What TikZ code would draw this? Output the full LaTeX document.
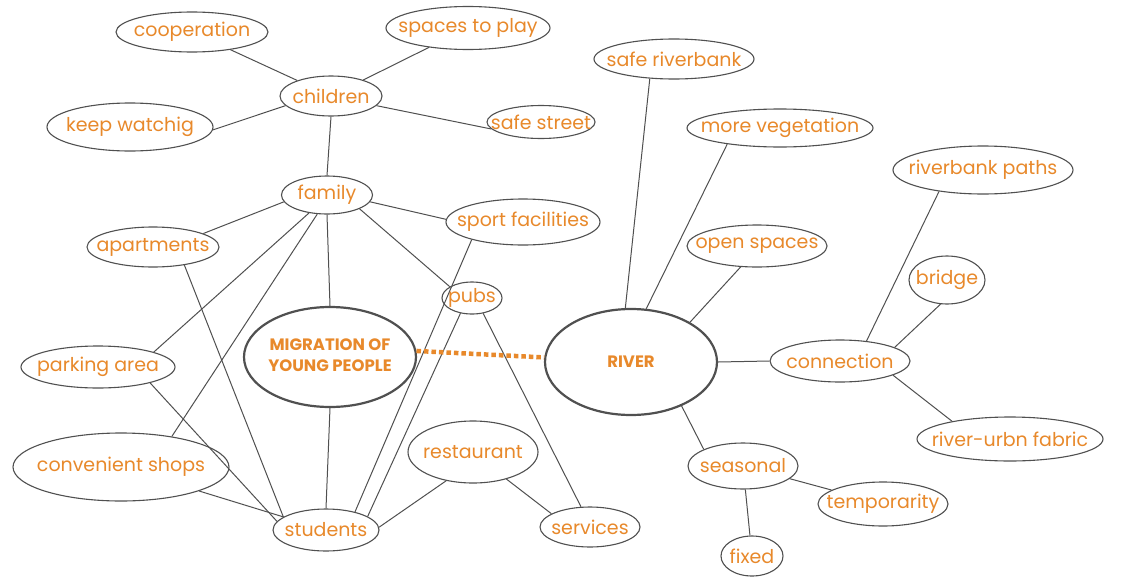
\documentclass[tikz,border=0pt]{standalone}
\usepackage{fontspec}
\setmainfont{Poppins}
\usetikzlibrary{shapes.geometric}
\definecolor{txt}{HTML}{E8892B}
\definecolor{ln}{HTML}{505050}
\tikzset{
  bub/.style={ellipse, draw=ln, line width=1.1pt, inner sep=0pt, text=txt, font=\fontsize{19}{21}\selectfont},
  big/.style={ellipse, draw=ln, line width=2.2pt, inner sep=0pt, text=txt, align=center, font=\fontsize{16.5}{22}\selectfont\bfseries},
  con/.style={draw=ln, line width=1pt},
  dotline/.style={draw=txt, line width=4.5pt, dash pattern=on 4.5pt off 3pt}
}
\newcommand{\bb}[5]{\node[bub, minimum width=#3pt, minimum height=#4pt] (#1) at #2 {\makebox[0pt]{#5}};}
\begin{document}
\begin{tikzpicture}[x=1pt,y=-1pt]
\useasboundingbox[fill=white] (0,0) rectangle (1122,581);
% nodes
\bb{coop}{(192,32)}{152}{40}{cooperation}
\bb{play}{(468,28)}{164}{43}{spaces to play}
\bb{child}{(331,96)}{102}{40}{children}
\bb{keep}{(130,127)}{166}{48}{keep watchig}
\bb{safest}{(541,122)}{108}{33}{safe street}
\bb{fam}{(327,195)}{91}{38}{family}
\bb{sport}{(523,222)}{154}{46}{sport facilities}
\bb{apt}{(153,247)}{132}{40}{apartments}
\bb{pubs}{(472,298)}{60}{32}{pubs}
\node[big, minimum width=172pt, minimum height=100pt] (mig) at (330,357) {\makebox[0pt]{\begin{tabular}{@{}c@{}}MIGRATION OF\\[-1pt]YOUNG PEOPLE\end{tabular}}};
\node[big, minimum width=172pt, minimum height=106pt] (river) at (631,362) {\makebox[0pt]{RIVER}};
\bb{park}{(98,367)}{154}{42}{parking area}
\bb{shops}{(121,467)}{216}{68}{convenient shops}
\bb{stud}{(326,530)}{106}{42}{students}
\bb{rest}{(473,452)}{130}{62}{restaurant}
\bb{serv}{(590,527)}{100}{40}{services}
\bb{saferb}{(674,59)}{160}{40}{safe riverbank}
\bb{veg}{(780,128)}{186}{38}{more vegetation}
\bb{open}{(757,246)}{140}{42}{open spaces}
\bb{paths}{(983,170)}{180}{48}{riverbank paths}
\bb{bridge}{(947,280)}{76}{48}{bridge}
\bb{conn}{(840,361)}{140}{42}{connection}
\bb{fabric}{(1010,439)}{186}{44}{river-urbn fabric}
\bb{seas}{(743,466)}{110}{46}{seasonal}
\bb{temp}{(883,504)}{130}{44}{temporarity}
\bb{fixed}{(752,556)}{62}{40}{fixed}
% connectors
\draw[con] (child) -- (coop);
\draw[con] (child) -- (play);
\draw[con] (child.192) -- (keep.-2);
\draw[con] (child.-12) -- (safest.188);
\draw[con] (child.south) -- (fam.north);
\draw[con] (fam.189) -- (apt.15);
\draw[con] (fam.-9) -- (sport.178);
\draw[con] (fam.south) -- (mig.north);
\draw[con] (fam.-23) -- (pubs.153);
\draw[con] (fam.225) -- (park.15);
\draw[con] (fam.243) -- (shops.31);
\draw[con] (apt.-30) -- (stud.163);
\draw[con] (park.-17) -- (stud.170);
\draw[con] (shops) -- (stud);
\draw[con] (mig.south) -- (stud.north);
\draw[con] (sport.199) -- (stud.32);
\draw[con] (pubs.233) -- (stud.18);
\draw[con] (pubs.-54) -- (serv.114);
\draw[con] (rest.227) -- (stud.3);
\draw[con] (rest.-39) -- (serv.161);
\draw[dotline] (mig.4) -- (river.177);
\draw[con] (river.96) -- (saferb.219);
\draw[con] (river.74) -- (veg.197);
\draw[con] (river.34) -- (open.232);
\draw[con] (river.east) -- (conn.west);
\draw[con] (river.-41) -- (seas.157);
\draw[con] (conn.37) -- (paths.206);
\draw[con] (conn.14) -- (bridge.255);
\draw[con] (conn.-15) -- (fabric.163);
\draw[con] (seas) -- (temp);
\draw[con] (seas) -- (fixed);
\end{tikzpicture}
\end{document}
